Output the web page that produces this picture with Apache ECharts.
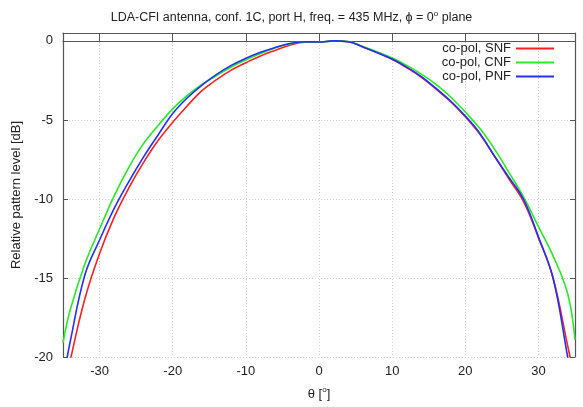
<!DOCTYPE html>
<html><head><meta charset="utf-8">
<script src="https://cdn.jsdelivr.net/npm/echarts@6/dist/echarts.min.js"></script>
<style>html,body{margin:0;padding:0;background:#fff}#c{width:583px;height:407px}</style>
</head><body><div id="c"></div>
<script>
const theta = [-35,-34,-32,-30,-28,-26,-24,-22,-20,-18,-16,-14,-12,-10,-8,-6,-4,-2,0,2,4,6,8,10,12,14,16,18,20,22,24,26,28,30,32,34,35];
const snf = [-22.5,-20.2,-16.3,-13.45,-11.15,-9.3,-7.7,-6.3,-5.15,-4.1,-3.15,-2.45,-1.85,-1.38,-0.95,-0.6,-0.28,-0.08,-0.07,0,-0.05,-0.38,-0.75,-1.17,-1.7,-2.3,-3.05,-3.85,-4.8,-5.9,-7.3,-8.75,-10.2,-12.45,-15.0,-19.3,-21.5];
const cnf = [-19.1,-17.0,-14.1,-11.9,-9.8,-8.0,-6.5,-5.35,-4.3,-3.45,-2.75,-2.2,-1.65,-1.2,-0.8,-0.45,-0.18,-0.05,-0.07,0,-0.04,-0.36,-0.7,-1.08,-1.55,-2.1,-2.75,-3.55,-4.5,-5.55,-6.85,-8.35,-9.9,-11.75,-13.6,-16.0,-18.9];
const pnf = [-21.5,-19.0,-14.8,-12.6,-10.6,-8.9,-7.35,-5.95,-4.6,-3.6,-2.8,-2.12,-1.55,-1.1,-0.72,-0.42,-0.17,-0.05,-0.07,0,-0.05,-0.38,-0.75,-1.15,-1.66,-2.26,-3.0,-3.8,-4.75,-5.85,-7.3,-8.65,-10.05,-12.4,-15.0,-20.0,-22.5];
const seriesNames = ['co-pol, SNF','co-pol, CNF','co-pol, PNF'];
const xTicks = [-30,-20,-10,0,10,20,30];
const yTicks = [-20,-15,-10,-5,0];

const font = 'Liberation Sans, Arial, sans-serif';
const frame = '#555';
const grid = '#cfcfcf';
const chart = echarts.init(document.getElementById('c'));
const pair = a => theta.map((t,i)=>[t,a[i]]);
const mk = (name, data, color) => ({
  name, type:'line', data: pair(data), showSymbol:false, smooth:0.4,
  lineStyle:{color, width:1.6}, itemStyle:{color}, clip:true
});
const rich = {
  a:{fontSize:13,color:'#222',fontFamily:font},
  s:{fontSize:8,color:'#222',fontFamily:font,padding:[0,0,8,0]}
};
chart.setOption({
  animation:false,
  textStyle:{fontFamily:font},
  title:{
    text:'{a|LDA-CFI antenna, conf. 1C, port H, freq. = 435 MHz, ϕ = 0}{s|o}{a| plane}',
    left:'center', top:5,
    textStyle:{fontWeight:'normal', rich:{
      a:{fontSize:12.5, color:'#222', fontFamily:font, fontWeight:'normal'},
      s:{fontSize:8, color:'#222', fontFamily:font, padding:[0,0,8,0], fontWeight:'normal'}
    }}
  },
  legend:{
    orient:'vertical', right:24, top:37, align:'right',
    itemWidth:38, itemHeight:2, itemGap:1, icon:'rect',
    textStyle:{fontSize:13, color:'#222', lineHeight:13, fontFamily:font},
    data:seriesNames
  },
  grid:{left:63, right:8, top:33, bottom:50},
  xAxis:[{
    type:'value', min:-35, max:35, interval:10,
    name:'{a|θ [}{s|o}{a|]}', nameLocation:'middle', nameGap:29,
    nameTextStyle:{rich},
    axisLine:{lineStyle:{color:frame,width:1.2}},
    axisTick:{inside:true,length:5,lineStyle:{color:frame},customValues:xTicks},
    axisLabel:{fontSize:13,color:'#222',margin:8,customValues:xTicks,
      formatter:v=>xTicks.includes(v)?String(v):''},
    splitLine:{show:true,lineStyle:{color:grid,type:[1,2],width:1}}
  },{
    type:'value', min:-35, max:35, interval:10, position:'top',
    axisLine:{show:true,onZero:false,lineStyle:{color:frame,width:1.2}},
    axisTick:{show:true,inside:true,length:5,lineStyle:{color:frame},customValues:xTicks},
    axisLabel:{show:false}, splitLine:{show:false}
  }],
  yAxis:[{
    type:'value', min:-20, max:0.5, interval:5,
    name:'Relative pattern level [dB]', nameLocation:'middle', nameGap:37,
    nameTextStyle:{fontSize:13,color:'#222',fontFamily:font},
    axisLine:{show:true,onZero:false,lineStyle:{color:frame,width:1.2}},
    axisTick:{inside:true,length:5,lineStyle:{color:frame},customValues:yTicks},
    axisLabel:{fontSize:13,color:'#222',margin:10,customValues:yTicks,
      formatter:v=>yTicks.includes(v)?String(v):''},
    splitLine:{show:true,lineStyle:{color:grid,type:[1,2],width:1}}
  },{
    type:'value', min:-20, max:0.5, interval:5, position:'right',
    axisLine:{show:true,onZero:false,lineStyle:{color:frame,width:1.2}},
    axisTick:{show:true,inside:true,length:5,lineStyle:{color:frame},customValues:yTicks},
    axisLabel:{show:false}, splitLine:{show:false}
  }],
  series:[
    mk(seriesNames[0], snf, '#ff2020'),
    mk(seriesNames[1], cnf, '#22ee22'),
    mk(seriesNames[2], pnf, '#2030ff')
  ]
});
</script></body></html>
